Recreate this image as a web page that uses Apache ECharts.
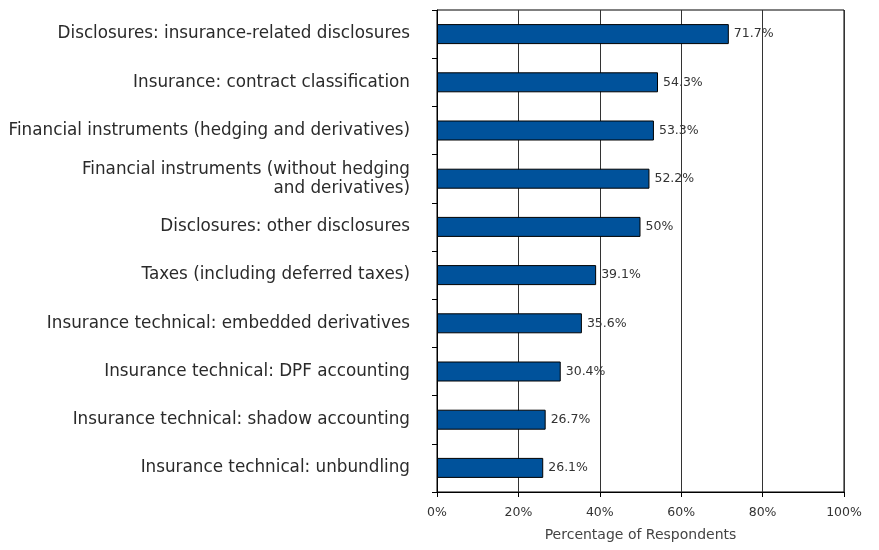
<!DOCTYPE html>
<html>
<head>
<meta charset="utf-8">
<style>
  html, body { margin: 0; padding: 0; background: #fff; }
  #chart { width: 879px; height: 550px; }
</style>
<script src="https://cdn.jsdelivr.net/npm/echarts@6/dist/echarts.min.js"></script>
</head>
<body>
<div id="chart"></div>
<script>
// Topics, listed top to bottom
const categories = [
  'Disclosures: insurance-related disclosures',
  'Insurance: contract classification',
  'Financial instruments (hedging and derivatives)',
  'Financial instruments (without hedging\nand derivatives)',
  'Disclosures: other disclosures',
  'Taxes (including deferred taxes)',
  'Insurance technical: embedded derivatives',
  'Insurance technical: DPF accounting',
  'Insurance technical: shadow accounting',
  'Insurance technical: unbundling'
];

// Share of respondents (%)
const values = [71.7, 54.3, 53.3, 52.2, 50, 39.1, 35.6, 30.4, 26.7, 26.1];

const xTicks = [0, 20, 40, 60, 80, 100];
const xAxisTitle = 'Percentage of Respondents';

const chart = echarts.init(document.getElementById('chart'), null, { renderer: 'canvas' });

chart.setOption({
  animation: false,
  backgroundColor: '#fff',
  textStyle: { fontFamily: 'DejaVu Sans, Verdana, sans-serif' },
  grid: {
    left: 437, right: 35, top: 10, bottom: 58,
    containLabel: false,
    outerBoundsMode: 'none',
    show: true, borderColor: '#000', borderWidth: 1, backgroundColor: 'transparent'
  },
  xAxis: {
    type: 'value',
    min: xTicks[0],
    max: xTicks[xTicks.length - 1],
    interval: xTicks[1] - xTicks[0],
    name: xAxisTitle,
    nameLocation: 'middle',
    nameGap: 36,
    nameTextStyle: { fontSize: 14, color: '#444' },
    axisLine: { show: true, lineStyle: { color: '#000', width: 1 } },
    axisTick: { show: true, length: 5, lineStyle: { color: '#000' } },
    axisLabel: { formatter: '{value}%', fontSize: 12.5, color: '#333', margin: 14 },
    splitLine: { show: true, lineStyle: { color: '#333', width: 1 } }
  },
  yAxis: {
    type: 'category',
    data: categories,
    inverse: true,
    axisLine: { show: true, lineStyle: { color: '#000', width: 1 } },
    axisTick: { show: true, length: 5, lineStyle: { color: '#000' } },
    axisLabel: { fontSize: 16.8, color: '#2a2a2a', margin: 27, lineHeight: 19, align: 'right' },
    splitLine: { show: false }
  },
  series: [{
    type: 'bar',
    data: values,
    barWidth: 20,
    itemStyle: { color: '#00529b', borderColor: '#000', borderWidth: 1 },
    label: {
      show: true,
      position: 'right',
      distance: 5,
      formatter: p => p.value + '%',
      fontSize: 12.5,
      color: '#333'
    }
  }]
});
</script>
</body>
</html>
